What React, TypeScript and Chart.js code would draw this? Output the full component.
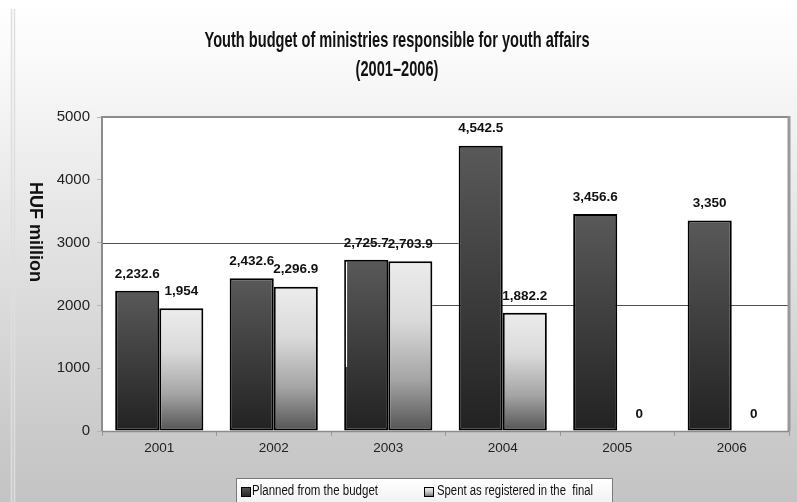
import React, { useEffect, useRef } from 'react';
import { Chart, registerables } from 'chart.js';

Chart.register(...registerables);

const categories = ['2001', '2002', '2003', '2004', '2005', '2006'];
const planned = [2232.6, 2432.6, 2725.7, 4542.5, 3456.6, 3350];
const spent = [1954, 2296.9, 2703.9, 1882.2, 0, 0];
const seriesNames = ['Planned from the budget', 'Spent as registered in the  final'];
const titleLines = ['Youth budget of ministries responsible for youth affairs', '(2001–2006)'];
const yTitle = 'HUF million';
const yMin = 0;
const yMax = 5000;
const yStep = 1000;

const FONT = '"Liberation Sans", Arial, Helvetica, sans-serif';

function plannedGradient(ctx: CanvasRenderingContext2D, top: number, bot: number) {
  const g = ctx.createLinearGradient(0, top, 0, bot);
  g.addColorStop(0, '#595959');
  g.addColorStop(1, '#222222');
  return g;
}
function spentGradient(ctx: CanvasRenderingContext2D, top: number, bot: number) {
  const g = ctx.createLinearGradient(0, top, 0, bot);
  g.addColorStop(0, '#ececec');
  g.addColorStop(0.35, '#dadada');
  g.addColorStop(0.7, '#a4a4a4');
  g.addColorStop(1, '#545454');
  return g;
}

function barFill(kind: 'p' | 's') {
  return (c: any) => {
    const chart = c.chart;
    const y = chart.scales && chart.scales.y;
    if (!chart.chartArea || !y || typeof c.raw !== 'number') return kind === 'p' ? '#3a3a3a' : '#cccccc';
    const top = y.getPixelForValue(c.raw);
    const bot = y.getPixelForValue(0);
    if (bot - top < 1) return kind === 'p' ? '#3a3a3a' : '#cccccc';
    return kind === 'p' ? plannedGradient(chart.ctx, top, bot) : spentGradient(chart.ctx, top, bot);
  };
}

function scaledText(ctx: CanvasRenderingContext2D, text: string, x: number, y: number, sx: number, align: CanvasTextAlign) {
  ctx.save();
  ctx.translate(x, y);
  ctx.scale(sx, 1);
  ctx.textAlign = align;
  ctx.fillText(text, 0, 0);
  ctx.restore();
}

const decorPlugin = {
  id: 'decor',
  beforeDraw(chart: any) {
    const ctx: CanvasRenderingContext2D = chart.ctx;
    const W = chart.width;
    const H = chart.height;
    ctx.save();
    const g = ctx.createLinearGradient(0, 0, 0, H);
    g.addColorStop(0, '#ffffff');
    g.addColorStop(0.12, '#fafafa');
    g.addColorStop(0.88, '#c9c9c9');
    g.addColorStop(1, '#c4c4c4');
    ctx.fillStyle = g;
    ctx.fillRect(0, 0, W, H);
    // frame lines on the left
    ctx.strokeStyle = '#dedede';
    ctx.lineWidth = 1.5;
    ctx.beginPath();
    ctx.moveTo(11.5, 9);
    ctx.lineTo(11.5, H);
    ctx.moveTo(14.5, 9);
    ctx.lineTo(14.5, H);
    ctx.stroke();
    // plot area
    const a = chart.chartArea;
    ctx.fillStyle = '#ffffff';
    ctx.fillRect(a.left, a.top, a.right - a.left, a.bottom - a.top);
    ctx.restore();
  },
  beforeDatasetsDraw(chart: any) {
    const ctx: CanvasRenderingContext2D = chart.ctx;
    const a = chart.chartArea;
    const y = chart.scales.y;
    const m0 = chart.getDatasetMeta(0).data;
    const m1 = chart.getDatasetMeta(1).data;
    ctx.save();
    ctx.strokeStyle = '#505050';
    ctx.lineWidth = 1;
    // partial grid lines as in the reference
    const y3 = Math.round(y.getPixelForValue(3000)) + 0.5;
    const y2 = Math.round(y.getPixelForValue(2000)) + 0.5;
    const b2004 = m0[3];
    const s2003 = m1[2];
    ctx.beginPath();
    ctx.moveTo(a.left, y3);
    ctx.lineTo(b2004.x - b2004.width / 2, y3);
    ctx.moveTo(s2003.x + s2003.width / 2, y2);
    ctx.lineTo(a.right, y2);
    ctx.stroke();
    // borders
    ctx.strokeStyle = '#8c8c8c';
    ctx.lineWidth = 2;
    ctx.beginPath();
    ctx.moveTo(a.left, a.bottom);
    ctx.lineTo(a.left, a.top);
    ctx.lineTo(a.right, a.top);
    ctx.stroke();
    ctx.strokeStyle = '#999999';
    ctx.lineWidth = 3;
    ctx.beginPath();
    ctx.moveTo(a.right, a.top - 1);
    ctx.lineTo(a.right, a.bottom);
    ctx.stroke();
    ctx.strokeStyle = '#8c8c8c';
    ctx.lineWidth = 1.5;
    ctx.beginPath();
    ctx.moveTo(a.left, a.bottom + 0.5);
    ctx.lineTo(a.right, a.bottom + 0.5);
    ctx.stroke();
    ctx.restore();
  },
  afterDatasetsDraw(chart: any) {
    const ctx: CanvasRenderingContext2D = chart.ctx;
    const y = chart.scales.y;
    ctx.save();
    // small white artifact inside the 2003 planned bar
    const b2003 = chart.getDatasetMeta(0).data[2];
    if (b2003) {
      const lx = Math.round(b2003.x - b2003.width / 2) + 2.5;
      ctx.strokeStyle = '#ffffff';
      ctx.lineWidth = 1.2;
      ctx.beginPath();
      ctx.moveTo(lx, b2003.y + 2);
      ctx.lineTo(lx, y.getPixelForValue(1020));
      ctx.stroke();
    }
    ctx.fillStyle = '#111111';
    ctx.font = `bold 13.5px ${FONT}`;
    ctx.textAlign = 'center';
    ctx.textBaseline = 'middle';
    chart.data.datasets.forEach((ds: any, di: number) => {
      const meta = chart.getDatasetMeta(di);
      meta.data.forEach((el: any, i: number) => {
        const v = ds.data[i];
        const top = Math.min(el.y, el.base);
        const txt = Number(v).toLocaleString('en-US', { maximumFractionDigits: 1 });
        ctx.fillText(txt, el.x, top - 17);
      });
    });
    ctx.restore();
  },
  afterDraw(chart: any) {
    const ctx: CanvasRenderingContext2D = chart.ctx;
    ctx.save();
    // title
    ctx.fillStyle = '#111111';
    ctx.font = `bold 22px ${FONT}`;
    ctx.textBaseline = 'middle';
    const w1 = ctx.measureText(titleLines[0]).width;
    const sx = 385 / w1;
    scaledText(ctx, titleLines[0], 397, 41, sx, 'center');
    scaledText(ctx, titleLines[1], 397, 70, sx, 'center');
    // y title, reading top to bottom
    ctx.font = `bold 18px ${FONT}`;
    ctx.save();
    ctx.translate(35, 232);
    ctx.rotate(Math.PI / 2);
    ctx.textAlign = 'center';
    ctx.textBaseline = 'middle';
    ctx.fillText(yTitle, 0, 0);
    ctx.restore();
    // legend
    const lx = 236.5, ly = 478.5, lw = 376, lh = 40;
    const lg = ctx.createLinearGradient(0, ly, 0, ly + 24);
    lg.addColorStop(0, '#ffffff');
    lg.addColorStop(1, '#f2f2f2');
    ctx.fillStyle = lg;
    ctx.fillRect(lx, ly, lw, lh);
    ctx.strokeStyle = '#7a7a7a';
    ctx.lineWidth = 1;
    ctx.strokeRect(lx, ly, lw, lh);
    const markers = [
      { x: 241.5, tx: 252, tw: 126, fill: plannedGradient(ctx, 487, 497) },
      { x: 424.5, tx: 437, tw: 156, fill: spentGradient(ctx, 487, 497) },
    ];
    ctx.font = `14px ${FONT}`;
    ctx.textBaseline = 'middle';
    markers.forEach((mk, i) => {
      ctx.fillStyle = mk.fill;
      ctx.fillRect(mk.x, 487.5, 9, 9);
      ctx.strokeStyle = '#000000';
      ctx.lineWidth = 1;
      ctx.strokeRect(mk.x, 487.5, 9, 9);
      ctx.fillStyle = '#111111';
      const tw = ctx.measureText(seriesNames[i]).width;
      scaledText(ctx, seriesNames[i], mk.tx, 491, mk.tw / tw, 'left');
    });
    ctx.restore();
  },
};

export default function App() {
  const ref = useRef<HTMLCanvasElement | null>(null);
  useEffect(() => {
    if (!ref.current) return;
    const chart = new Chart(ref.current, {
      type: 'bar',
      data: {
        labels: categories,
        datasets: [
          {
            label: seriesNames[0],
            data: planned,
            backgroundColor: barFill('p') as any,
            borderColor: '#000000',
            borderWidth: 2,
            borderSkipped: false,
            barPercentage: 1,
            categoryPercentage: 0.77,
          },
          {
            label: seriesNames[1],
            data: spent,
            backgroundColor: barFill('s') as any,
            borderColor: '#000000',
            borderWidth: 2,
            borderSkipped: false,
            barPercentage: 1,
            categoryPercentage: 0.77,
          },
        ],
      },
      options: {
        responsive: false,
        animation: false,
        layout: { padding: { top: 117, right: 8, left: 0, bottom: 0 } },
        plugins: {
          legend: { display: false },
          title: { display: false },
          tooltip: { enabled: false },
        },
        scales: {
          x: {
            grid: {
              display: true,
              drawOnChartArea: false,
              drawTicks: true,
              tickLength: 5,
              color: '#9a9a9a',
              offset: true,
            },
            border: { display: false },
            ticks: { color: '#222222', font: { family: FONT, size: 13.5 }, padding: 4 },
            afterFit: (s: any) => {
              s.height = 71;
            },
          },
          y: {
            min: yMin,
            max: yMax,
            grid: { drawOnChartArea: false, drawTicks: true, tickLength: 5, color: '#b5b5b5' },
            border: { display: false },
            ticks: {
              stepSize: yStep,
              color: '#222222',
              font: { family: FONT, size: 15 },
              padding: 7,
              callback: (v: any) => String(v),
            },
            afterFit: (s: any) => {
              s.width = 102;
            },
          },
        },
      },
      plugins: [decorPlugin],
    });
    return () => chart.destroy();
  }, []);
  return (
    <div style={{ position: 'absolute', left: 0, top: 0, width: 797, height: 502 }}>
      <canvas ref={ref} width={797} height={502} style={{ display: 'block' }} />
    </div>
  );
}
